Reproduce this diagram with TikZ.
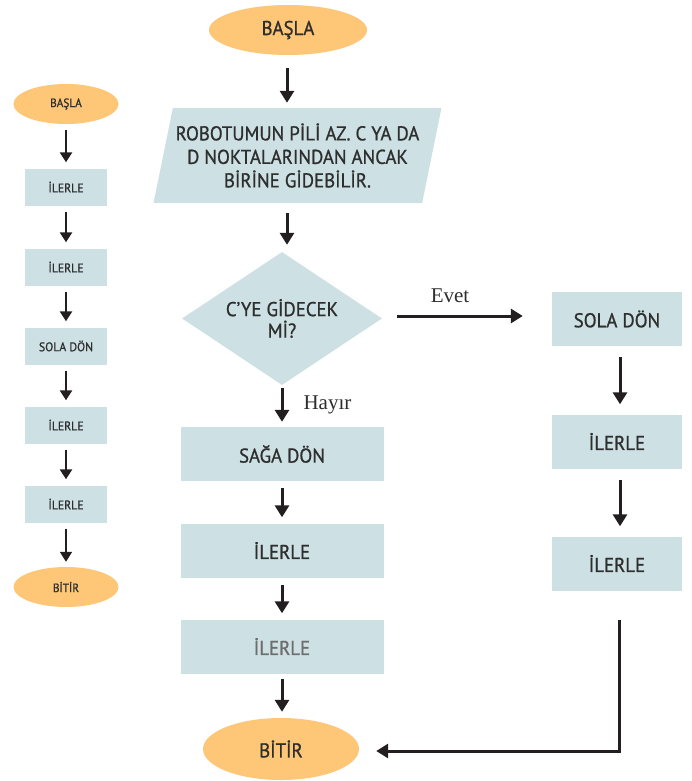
\documentclass[tikz,border=0pt]{standalone}
\usepackage{fontspec}
\setmainfont{PT Sans}[FakeStretch=0.94,FakeBold=0.9]
\newfontfamily\serifl{Liberation Serif}
\usetikzlibrary{shapes.geometric,arrows.meta}
\definecolor{boxfill}{HTML}{CDE1E4}
\definecolor{ovalfill}{HTML}{FDC777}
\definecolor{ink}{HTML}{231F20}
\definecolor{txt}{HTML}{2E2E2E}
\tikzset{
  pbox/.style={fill=boxfill, minimum width=203pt, minimum height=54pt, inner sep=0pt, text=txt, font=\fontsize{20}{23}\selectfont},
  rbox/.style={fill=boxfill, minimum width=130pt, minimum height=54pt, inner sep=0pt, text=txt, font=\fontsize{20}{23}\selectfont},
  sbox/.style={fill=boxfill, minimum width=82pt, minimum height=37pt, inner sep=0pt, text=txt, font=\fontsize{12.5}{14}\selectfont},
  oval/.style={ellipse, fill=ovalfill, inner sep=0pt, text=txt},
  arr/.style={draw=ink, line width=3pt, -{Triangle[length=12pt,width=14pt]}},
  sarr/.style={draw=ink, line width=2.6pt, -{Triangle[length=10pt,width=12pt]}},
  lab/.style={font=\serifl\fontsize{21}{24}\selectfont, text=txt},
}
\begin{document}
\begin{tikzpicture}[x=1pt,y=-1pt]
\useasboundingbox (0,0) rectangle (691,781);
% ---- left small column
\node[oval, minimum width=105pt, minimum height=40pt, font=\fontsize{12}{14}\selectfont] (sA) at (66,104) {BAŞLA};
\node[sbox] (s1) at (66,187) {İLERLE};
\node[sbox] (s2) at (66,267) {İLERLE};
\node[sbox] (s3) at (66,346) {SOLA DÖN};
\node[sbox] (s4) at (66,425) {İLERLE};
\node[sbox] (s5) at (66,504) {İLERLE};
\node[oval, minimum width=105pt, minimum height=40pt, font=\fontsize{12}{14}\selectfont] (sB) at (66,587) {BİTİR};
\draw[sarr, shorten <=6pt, shorten >=6pt] (sA) -- (s1);
\draw[sarr, shorten <=6pt, shorten >=6pt] (s1) -- (s2);
\draw[sarr, shorten <=6pt, shorten >=6pt] (s2) -- (s3);
\draw[sarr, shorten <=6pt, shorten >=6pt] (s3) -- (s4);
\draw[sarr, shorten <=6pt, shorten >=6pt] (s4) -- (s5);
\draw[sarr, line width=1.8pt, shorten <=6pt, shorten >=5pt] (s5) -- (sB);
% ---- main column
\node[oval, minimum width=158pt, minimum height=50pt, font=\fontsize{20}{23}\selectfont] (A) at (288,30) {BAŞLA};
\node[trapezium, trapezium left angle=73.6, trapezium right angle=106.4, trapezium stretches=true,
      fill=boxfill, minimum width=289pt, minimum height=95pt, inner sep=0pt, text=txt,
      align=center, font=\fontsize{20}{23.5}\selectfont] (P) at (297.5,155.5)
      {ROBOTUMUN PİLİ AZ. C YA DA\\D NOKTALARINDAN ANCAK\\BİRİNE GİDEBİLİR.};
\node[diamond, aspect=1.5, fill=boxfill, minimum width=200pt, minimum height=133pt, inner sep=0pt,
      text=txt, align=center, font=\fontsize{20}{21.5}\selectfont] (D) at (282,318.5)
      {\raisebox{-8pt}{\parbox{140pt}{\centering C'YE GİDECEK\\Mİ?}}};
\node[pbox] (m1) at (282,454) {SAĞA DÖN};
\node[pbox] (m2) at (282,550.5) {İLERLE};
\node[pbox, text=txt!70] (m3) at (282,646.5) {İLERLE};
\node[oval, minimum width=156pt, minimum height=62pt, font=\fontsize{20}{23}\selectfont] (B) at (281,749) {BİTİR};
\draw[arr] ([yshift=-13pt]A.south -| 287,0) -- ([yshift=5pt]P.north -| 287,0);
\draw[arr] ([yshift=-10pt]P.south -| 287,0) -- ([yshift=7pt]D.north -| 287,0);
\draw[arr] ([yshift=-3pt]D.south) -- ([yshift=5pt]m1.north);
\draw[arr] ([yshift=-7pt]m1.south) -- ([yshift=6pt]m2.north);
\draw[arr] ([yshift=-7pt]m2.south) -- ([yshift=6pt]m3.north);
\draw[arr] ([yshift=-5pt]m3.south) -- ([yshift=6pt]B.north -| m3.south);
\node[lab, anchor=west] (h) at (300,405) {Hayır};
% ---- right column
\node[rbox] (r1) at (617,319) {SOLA DÖN};
\node[rbox] (r2) at (617,441.5) {İLERLE};
\node[rbox] (r3) at (617,563.5) {İLERLE};
\draw[arr] ([xshift=15pt]D.east |- 0,316) -- ([xshift=-29pt]r1.west |- 0,316);
\node[lab] (e) at (450,296) {Evet};
\draw[arr, shorten <=11pt, shorten >=10pt] (r1.south -| 620,0) -- (r2.north -| 620,0);
\draw[arr, shorten <=11pt, shorten >=10pt] (r2.south -| 620,0) -- (r3.north -| 620,0);
\coordinate (c1) at (619,620);
\coordinate (c2) at (619,751);
\draw[arr] (c1) -- (c2) -- ([xshift=17pt]B.east |- c2);
\end{tikzpicture}
\end{document}
